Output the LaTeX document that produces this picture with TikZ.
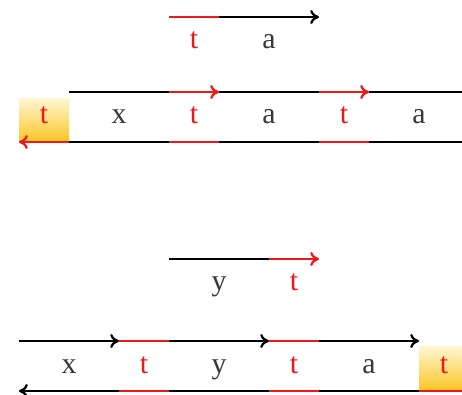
\documentclass[tikz,border=0pt]{standalone}
\usepackage{fontspec}
\setmainfont{Liberation Serif}
\usetikzlibrary{arrows.meta}
\definecolor{tred}{RGB}{238,24,24}
\definecolor{ink}{RGB}{55,55,55}
\definecolor{goldtop}{RGB}{255,247,212}
\definecolor{goldbot}{RGB}{250,198,38}
\tikzset{
  every picture/.style={font=\fontsize{17}{20}\selectfont},
  seg/.style={line width=1.3pt,black},
  redseg/.style={seg,tred},
  tip/.style={-{To[length=5pt,width=8pt]}},
  lbl/.style={anchor=base,inner sep=0pt,text=ink},
  tlbl/.style={lbl,text=tred},
  hilite/.style={top color=goldtop,bottom color=goldbot,draw=none},
}
\begin{document}
\begin{tikzpicture}[x=1cm,y=1cm]
  \useasboundingbox (-0.38,-7.88) rectangle (8.86,0);
  % rail points
  \foreach \k in {0,...,8}{
    \coordinate (s\k) at (\k,-0.34);
    \coordinate (u\k) at (\k,-1.84);
    \coordinate (d\k) at (\k,-2.84);
    \coordinate (q\k) at (\k,-5.18);
    \coordinate (v\k) at (\k,-6.82);
    \coordinate (w\k) at (\k,-7.82);
  }
  \coordinate (uE) at (8.86,-1.84);
  \coordinate (dE) at (8.86,-2.84);
  \coordinate (wE) at (8.86,-7.82);
  % highlighted cells
  \fill[hilite] (0,-1.96) rectangle (1,-2.82);
  \fill[hilite] (8,-6.92) rectangle (8.86,-7.80);
  % pattern t a
  \draw[redseg] (s3) -- (s4);
  \draw[seg,tip] (s4) -- (s6);
  \node[tlbl] (p1) at (3.5,-0.96) {t};
  \node[lbl] (p2) at (5,-0.96) {a};
  % text t x t a t a
  \draw[seg] (u1) -- (u3);
  \draw[redseg,tip] (u3) -- (u4);
  \draw[seg] (u4) -- (u6);
  \draw[redseg,tip] (u6) -- (u7);
  \draw[seg] (u7) -- (uE);
  \draw[redseg,tip] (d1) -- (d0);
  \draw[seg] (d1) -- (d3);
  \draw[redseg] (d3) -- (d4);
  \draw[seg] (d4) -- (d6);
  \draw[redseg] (d6) -- (d7);
  \draw[seg] (d7) -- (dE);
  \node[tlbl] (a0) at (0.5,-2.46) {t};
  \node[lbl]  (a1) at (2,-2.46) {x};
  \node[tlbl] (a2) at (3.5,-2.46) {t};
  \node[lbl]  (a3) at (5,-2.46) {a};
  \node[tlbl] (a4) at (6.5,-2.46) {t};
  \node[lbl]  (a5) at (8,-2.46) {a};
  % pattern y t
  \draw[seg] (q3) -- (q5);
  \draw[redseg,tip] (q5) -- (q6);
  \node[lbl]  (r1) at (4,-5.8) {y};
  \node[tlbl] (r2) at (5.5,-5.8) {t};
  % text x t y t a t
  \draw[seg,tip] (v0) -- (v2);
  \draw[redseg] (v2) -- (v3);
  \draw[seg,tip] (v3) -- (v5);
  \draw[redseg] (v5) -- (v6);
  \draw[seg,tip] (v6) -- (v8);
  \draw[redseg] (wE) -- (w8);
  \draw[seg] (w8) -- (w6);
  \draw[redseg] (w6) -- (w5);
  \draw[seg] (w5) -- (w3);
  \draw[redseg] (w3) -- (w2);
  \draw[seg,tip] (w2) -- (w0);
  \node[lbl]  (b0) at (1,-7.46) {x};
  \node[tlbl] (b1) at (2.5,-7.46) {t};
  \node[lbl]  (b2) at (4,-7.46) {y};
  \node[tlbl] (b3) at (5.5,-7.46) {t};
  \node[lbl]  (b4) at (7,-7.46) {a};
  \node[tlbl] (b5) at (8.5,-7.46) {t};
\end{tikzpicture}
\end{document}
